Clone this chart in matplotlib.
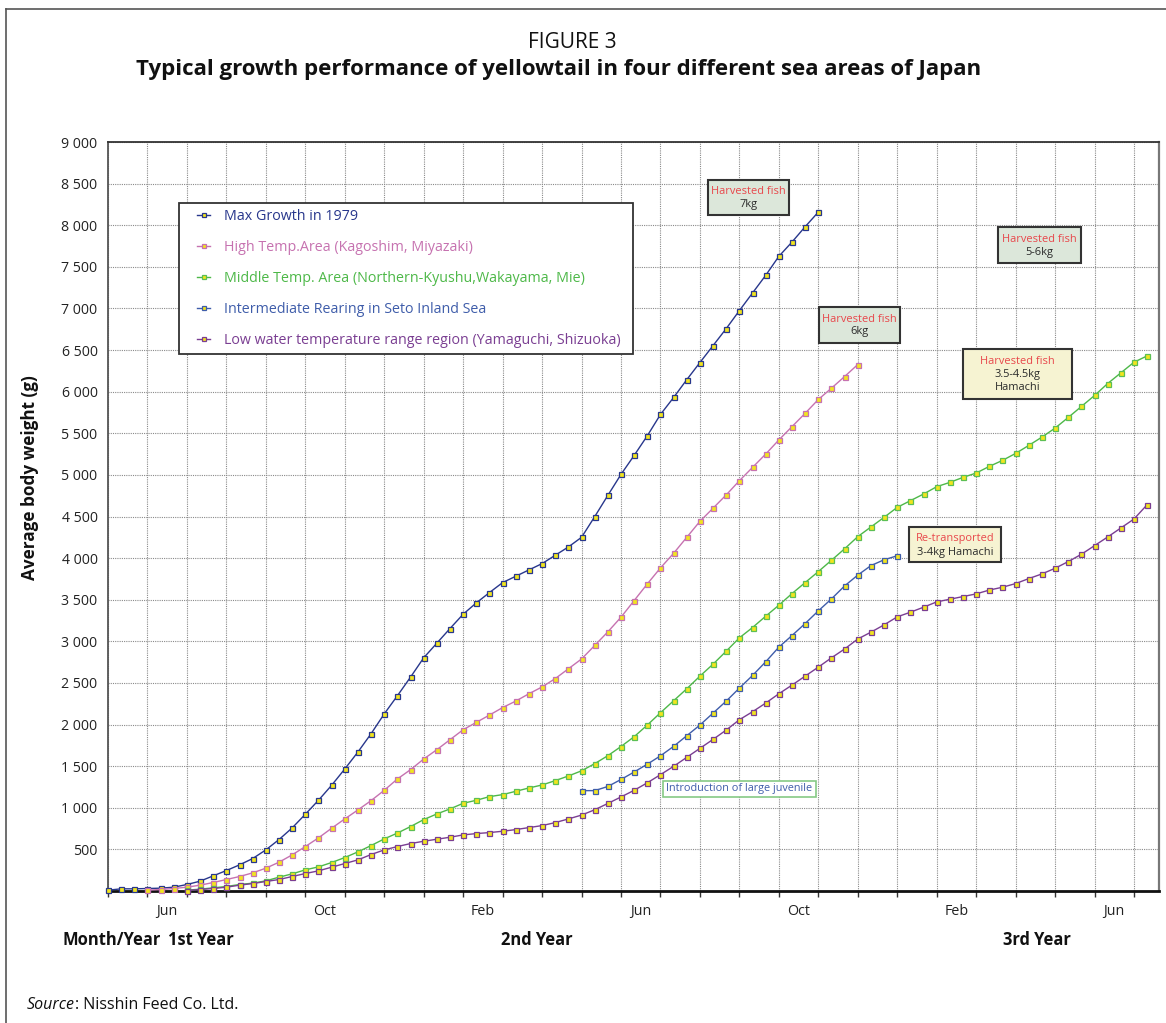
import numpy as np
import matplotlib
matplotlib.use("Agg")
import matplotlib.pyplot as plt
from matplotlib.lines import Line2D
from matplotlib.patches import Rectangle

plt.rcParams['font.family'] = ['Open Sans', 'DejaVu Sans']

# ---------------------------------------------------------------------------
# Data: average body weight (g) sampled every ten days (three samples a month),
# counted from the start of May in the 1st year.
# ---------------------------------------------------------------------------
max_growth_start = 0
max_growth = [10, 26, 26, 30, 34, 46, 78, 118, 182, 246,
              314, 390, 494, 618, 758, 922, 1090, 1270, 1466, 1670,
              1890, 2128, 2346, 2570, 2802, 2978, 3154, 3326, 3462, 3586,
              3706, 3782, 3858, 3934, 4034, 4134, 4250, 4498, 4754, 5006,
              5234, 5470, 5726, 5930, 6144, 6350, 6554, 6758, 6974, 7186,
              7398, 7626, 7798, 7982, 8158]

high_temp_start = 3
high_temp = [10, 18, 30, 46, 70, 102, 138, 174, 218, 274,
             346, 434, 534, 638, 754, 866, 974, 1086, 1210, 1346,
             1458, 1586, 1698, 1818, 1938, 2026, 2114, 2204, 2282, 2370,
             2452, 2552, 2670, 2788, 2950, 3114, 3290, 3490, 3690, 3882,
             4058, 4250, 4442, 4600, 4760, 4930, 5090, 5250, 5420, 5580,
             5740, 5906, 6042, 6182, 6326]

middle_temp_start = 6
middle_temp = [10, 22, 38, 54, 78, 94, 122, 166, 206, 254,
               290, 342, 402, 470, 546, 626, 696, 774, 858, 926,
               986, 1054, 1090, 1134, 1158, 1198, 1238, 1274, 1326, 1382,
               1444, 1530, 1626, 1736, 1854, 1994, 2142, 2286, 2430, 2582,
               2726, 2882, 3042, 3166, 3302, 3434, 3574, 3706, 3838, 3974,
               4112, 4258, 4374, 4490, 4610, 4690, 4770, 4858, 4910, 4970,
               5022, 5102, 5174, 5258, 5354, 5454, 5562, 5690, 5822, 5954,
               6098, 6226, 6354, 6430]

seto_start = 36
seto = [1206, 1206, 1256, 1340, 1430, 1524, 1624, 1738, 1866, 1994,
        2138, 2282, 2438, 2590, 2754, 2930, 3070, 3214, 3366, 3510,
        3666, 3796, 3910, 3980, 4028]

low_temp_start = 6
low_temp = [6, 18, 30, 46, 70, 90, 114, 138, 174, 210,
            242, 286, 330, 374, 438, 494, 534, 570, 598, 622,
            646, 674, 690, 702, 718, 738, 762, 786, 822, 866,
            912, 976, 1052, 1130, 1210, 1300, 1398, 1498, 1606, 1714,
            1822, 1934, 2058, 2154, 2258, 2370, 2474, 2582, 2690, 2802,
            2908, 3028, 3110, 3198, 3294, 3350, 3410, 3474, 3506, 3538,
            3570, 3616, 3650, 3694, 3754, 3810, 3878, 3958, 4046, 4150,
            4254, 4362, 4470, 4642]

series_names = ["Max Growth in 1979",
                "High Temp.Area (Kagoshim, Miyazaki)",
                "Middle Temp. Area (Northern-Kyushu,Wakayama, Mie)",
                "Intermediate Rearing in Seto Inland Sea",
                "Low water temperature range region (Yamaguchi, Shizuoka)"]

month_labels = ["Jun", "Oct", "Feb", "Jun", "Oct", "Feb", "Jun"]
year_labels = ["1st Year", "2nd Year", "3rd Year"]

# ---------------------------------------------------------------------------
W, H = 1166, 1023
fig = plt.figure(figsize=(W / 100, H / 100), dpi=100)


def fx(px):
    return px / W


def fy(py):
    return 1 - py / H


ax = fig.add_axes([fx(108), fy(891), (1159 - 108) / W, (891 - 142) / H])

colors = ["#28378C", "#C672B0", "#4DB848", "#3F5DAA", "#7A3E92"]
edge_colors = ["#28378C", "#C672B0", "#5CBF55", "#3F5DAA", "#7A3E92"]
marker_face = "#F2E51E"
line_style = dict(lw=1.0, marker="s", ms=3.6, mfc=marker_face, mew=0.9)

all_series = [(max_growth_start, max_growth), (high_temp_start, high_temp),
              (middle_temp_start, middle_temp), (seto_start, seto),
              (low_temp_start, low_temp)]

for (start, vals), name, c, ec in zip(all_series, series_names, colors, edge_colors):
    x = np.arange(start, start + len(vals))
    ax.plot(x, vals, color=c, mec=ec, clip_on=False, zorder=3, label=name,
            **line_style)

# axes ranges: 26 full months + two ten-day periods
n_periods = 79.9
ax.set_xlim(0, n_periods)
ax.set_ylim(0, 9000)

# month boundaries as major ticks/grid, month names centred in their month
month_edges = np.arange(0, 79, 3)
ax.set_xticks(month_edges)
ax.set_xticklabels([])
label_pos = [3 * (1 + 4 * k) + 1.5 for k in range(len(month_labels))]
ax.set_xticks(label_pos, minor=True)
ax.set_xticklabels(month_labels, minor=True, fontsize=10.3, color="#222222")
ax.tick_params(axis="x", which="major", direction="out", length=4,
               width=1.0, color="#333333")
ax.tick_params(axis="x", which="minor", length=0, pad=9.5)

yt = np.arange(0, 9001, 500)
ax.set_yticks(yt)
ax.set_yticklabels(["" if v == 0 else f"{v:,}".replace(",", " ") for v in yt],
                   fontsize=10.2, color="#222222")
ax.tick_params(axis="y", length=0, pad=7.5)

ax.grid(True, which="major", color="#8a8a8a", lw=0.8, ls=(0, (1, 1)))
ax.set_axisbelow(True)

for side, lw, col in [("bottom", 2.0, "#111111"), ("left", 1.3, "#555555"),
                      ("top", 1.3, "#333333"), ("right", 1.6, "#777777")]:
    ax.spines[side].set_linewidth(lw)
    ax.spines[side].set_color(col)

# legend box drawn in figure pixel coordinates
leg_x0, leg_y0, leg_x1, leg_y1 = 179, 203, 633, 354
fig.add_artist(Rectangle((fx(leg_x0), fy(leg_y1)), fx(leg_x1) - fx(leg_x0),
                         (leg_y1 - leg_y0) / H, transform=fig.transFigure,
                         facecolor="white", edgecolor="#333333", lw=1.3,
                         zorder=5))
row_step = 31
for k, (name, c, ec) in enumerate(zip(series_names, colors, edge_colors)):
    yrow = 215 + row_step * k
    fig.add_artist(Line2D([fx(197), fx(210)], [fy(yrow), fy(yrow)],
                          transform=fig.transFigure, color=c, lw=1.0,
                          zorder=6))
    fig.add_artist(Line2D([fx(203.5)], [fy(yrow)], transform=fig.transFigure,
                          color=c, marker="s", ms=3.2, mfc=marker_face,
                          mec=ec, mew=0.9, zorder=7))
    fig.text(fx(224), fy(yrow + 1.5), name, color=c, fontsize=10.3, ha="left",
             va="center", zorder=7)


# annotation boxes (pixel coordinates, top-left origin)
def note_box(x0, y0, x1, y1, lines, face, edge, lw=1.5, size=7.9):
    rect = Rectangle((fx(x0), fy(y1)), fx(x1) - fx(x0), (y1 - y0) / H,
                     transform=fig.transFigure, facecolor=face,
                     edgecolor=edge, lw=lw, zorder=6)
    fig.add_artist(rect)
    for txt, color, ypix in lines:
        fig.text(fx((x0 + x1) / 2), fy(ypix), txt, color=color,
                 fontsize=size, ha="center", va="center", zorder=7)


red = "#E8474B"
dark = "#2a2a2a"
green_fill = "#DCE7DA"
yellow_fill = "#F6F3D2"
note_box(708, 180, 789, 215, [("Harvested fish", red, 191), ("7kg", dark, 204)],
         green_fill, "#333333")
note_box(819, 307, 900, 343, [("Harvested fish", red, 319), ("6kg", dark, 332)],
         green_fill, "#333333")
note_box(998, 227, 1081, 263, [("Harvested fish", red, 239), ("5-6kg", dark, 252)],
         green_fill, "#333333")
note_box(963, 349, 1072, 399, [("Harvested fish", red, 361),
                               ("3.5-4.5kg", dark, 374),
                               ("Hamachi", dark, 388)],
         yellow_fill, "#333333")
note_box(909, 527, 1001, 562, [("Re-transported", red, 539),
                               ("3-4kg Hamachi", dark, 552)],
         yellow_fill, "#333333")
note_box(663, 781, 816, 797, [("Introduction of large juvenile", "#3F5DAA", 789)],
         "white", "#86C985", lw=1.2, size=7.8)

# titles
fig.text(fx(572), fy(42), "FIGURE 3", fontsize=15.0, ha="center", va="center",
         color="#111111")
fig.text(fx(559), fy(70), "Typical growth performance of yellowtail in four different sea areas of Japan",
         fontsize=16.0, fontweight="bold", ha="center", va="center", color="#111111")

fig.text(fx(30), fy(478), "Average body weight (g)", rotation=90, fontsize=12.3,
         fontweight="bold", ha="center", va="center", color="#111111")

fig.text(fx(63), fy(940), "Month/Year", fontsize=11.9, fontweight="bold",
         ha="left", va="center", color="#111111")
fig.text(fx(168), fy(940), year_labels[0], fontsize=11.9, fontweight="bold",
         ha="left", va="center", color="#111111")
fig.text(fx(537), fy(940), year_labels[1], fontsize=11.9, fontweight="bold",
         ha="center", va="center", color="#111111")
fig.text(fx(1037), fy(940), year_labels[2], fontsize=11.9, fontweight="bold",
         ha="center", va="center", color="#111111")

# source line: italic word followed by the plain text
src = fig.text(fx(27), fy(1005), "Source", fontsize=11.5, style="italic",
               ha="left", va="center", color="#111111")
renderer = fig.canvas.get_renderer()
bb = src.get_window_extent(renderer=renderer)
fig.text(bb.x1 / W, fy(1005), ": Nisshin Feed Co. Ltd.", fontsize=11.5,
         ha="left", va="center", color="#111111")

# outer frame
fig.add_artist(Line2D([fx(5.5), fx(5.5)], [fy(8.5), 0], transform=fig.transFigure,
                      color="#555555", lw=1.2))
fig.add_artist(Line2D([fx(5.5), 1], [fy(8.5), fy(8.5)], transform=fig.transFigure,
                      color="#555555", lw=1.2))

fig.savefig("out.png", dpi=100)
